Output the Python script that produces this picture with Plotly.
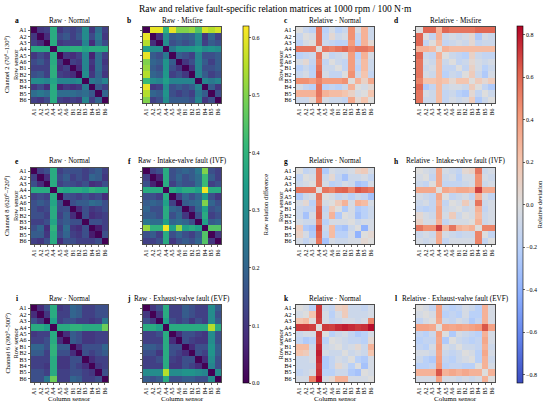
import plotly.graph_objects as go

W, H = 550, 407
SENSORS = ["A1", "A2", "A3", "A4", "A5", "A6", "B1", "B2", "B3", "B4", "B5", "B6"]

# ---------------- Row 1: Channel 2 ----------------
RAW_NORMAL_CH2 = [
    [0.00, 0.10, 0.12, 0.38, 0.10, 0.14, 0.12, 0.15, 0.30, 0.10, 0.22, 0.12],
    [0.10, 0.00, 0.08, 0.38, 0.14, 0.17, 0.12, 0.17, 0.30, 0.14, 0.25, 0.10],
    [0.12, 0.08, 0.00, 0.38, 0.10, 0.12, 0.12, 0.12, 0.28, 0.08, 0.22, 0.14],
    [0.38, 0.38, 0.38, 0.00, 0.38, 0.38, 0.39, 0.39, 0.36, 0.38, 0.38, 0.38],
    [0.10, 0.14, 0.10, 0.38, 0.00, 0.10, 0.08, 0.12, 0.28, 0.06, 0.22, 0.12],
    [0.14, 0.17, 0.12, 0.38, 0.10, 0.00, 0.12, 0.10, 0.28, 0.10, 0.22, 0.10],
    [0.12, 0.12, 0.12, 0.39, 0.08, 0.12, 0.00, 0.08, 0.28, 0.08, 0.22, 0.12],
    [0.15, 0.17, 0.12, 0.39, 0.12, 0.10, 0.08, 0.00, 0.30, 0.10, 0.20, 0.10],
    [0.30, 0.30, 0.28, 0.36, 0.28, 0.28, 0.28, 0.30, 0.00, 0.25, 0.22, 0.28],
    [0.10, 0.14, 0.08, 0.38, 0.06, 0.10, 0.08, 0.10, 0.25, 0.00, 0.17, 0.12],
    [0.22, 0.25, 0.22, 0.38, 0.22, 0.22, 0.22, 0.20, 0.22, 0.17, 0.00, 0.20],
    [0.12, 0.10, 0.14, 0.38, 0.12, 0.10, 0.12, 0.10, 0.28, 0.12, 0.20, 0.00],
]
RAW_MISFIRE_CH2 = [
    [0.00, 0.60, 0.60, 0.40, 0.60, 0.50, 0.50, 0.52, 0.45, 0.58, 0.55, 0.58],
    [0.60, 0.00, 0.08, 0.30, 0.18, 0.20, 0.18, 0.20, 0.30, 0.10, 0.20, 0.12],
    [0.55, 0.08, 0.00, 0.30, 0.15, 0.18, 0.15, 0.18, 0.28, 0.12, 0.18, 0.15],
    [0.35, 0.30, 0.30, 0.00, 0.25, 0.32, 0.32, 0.33, 0.35, 0.30, 0.32, 0.30],
    [0.60, 0.18, 0.15, 0.25, 0.00, 0.18, 0.15, 0.12, 0.28, 0.15, 0.15, 0.18],
    [0.50, 0.20, 0.18, 0.32, 0.18, 0.00, 0.10, 0.15, 0.28, 0.18, 0.12, 0.18],
    [0.52, 0.18, 0.15, 0.32, 0.15, 0.10, 0.00, 0.10, 0.28, 0.15, 0.15, 0.18],
    [0.55, 0.20, 0.18, 0.33, 0.12, 0.15, 0.10, 0.00, 0.28, 0.18, 0.12, 0.15],
    [0.42, 0.30, 0.28, 0.35, 0.28, 0.28, 0.28, 0.28, 0.00, 0.28, 0.25, 0.28],
    [0.60, 0.10, 0.12, 0.30, 0.15, 0.18, 0.15, 0.18, 0.28, 0.00, 0.18, 0.10],
    [0.55, 0.20, 0.18, 0.32, 0.15, 0.12, 0.15, 0.12, 0.25, 0.18, 0.00, 0.15],
    [0.50, 0.12, 0.15, 0.30, 0.18, 0.18, 0.18, 0.15, 0.28, 0.10, 0.15, 0.00],
]
REL_NORMAL_CH2 = [
    [0.00, -0.12, -0.18, 0.55, -0.20, -0.05, -0.20, -0.12, 0.45, -0.05, 0.30, -0.10],
    [-0.12, 0.00, -0.05, 0.55, -0.15, 0.05, -0.10, -0.05, 0.45, -0.15, 0.30, -0.10],
    [-0.18, -0.05, 0.00, 0.55, -0.10, -0.15, -0.20, -0.18, 0.40, -0.20, 0.30, 0.05],
    [0.55, 0.55, 0.55, 0.00, 0.55, 0.50, 0.55, 0.60, 0.50, 0.55, 0.55, 0.50],
    [-0.20, -0.15, -0.10, 0.55, 0.00, -0.15, -0.10, -0.05, 0.40, -0.20, 0.30, -0.05],
    [-0.05, 0.05, -0.15, 0.50, -0.15, 0.00, -0.10, -0.15, 0.40, -0.15, 0.25, -0.10],
    [-0.20, -0.10, -0.20, 0.55, -0.10, -0.10, 0.00, -0.15, 0.40, -0.20, 0.25, -0.10],
    [-0.12, -0.05, -0.18, 0.60, -0.05, -0.15, -0.15, 0.00, 0.45, -0.10, 0.20, -0.15],
    [0.45, 0.45, 0.40, 0.50, 0.40, 0.40, 0.40, 0.45, 0.00, 0.30, 0.10, 0.35],
    [-0.05, -0.15, -0.20, 0.55, -0.20, -0.15, -0.20, -0.10, 0.30, 0.00, -0.05, 0.05],
    [0.30, 0.30, 0.30, 0.55, 0.30, 0.25, 0.25, 0.20, 0.10, -0.05, 0.00, 0.20],
    [-0.10, -0.10, 0.05, 0.50, -0.05, -0.10, -0.10, -0.15, 0.35, 0.05, 0.20, 0.00],
]
REL_MISFIRE_CH2 = [
    [0.00, 0.60, 0.60, 0.30, 0.60, 0.55, 0.55, 0.55, 0.55, 0.60, 0.60, 0.60],
    [0.60, 0.00, -0.15, 0.30, -0.10, -0.05, -0.10, -0.05, 0.05, -0.25, -0.05, -0.10],
    [0.60, -0.15, 0.00, 0.25, -0.15, -0.10, -0.05, -0.10, 0.05, -0.15, -0.10, -0.10],
    [0.30, 0.30, 0.25, 0.00, 0.30, 0.25, 0.25, 0.25, 0.25, 0.25, 0.25, 0.25],
    [0.60, -0.10, -0.15, 0.30, 0.00, -0.10, -0.15, -0.20, 0.10, -0.10, -0.15, -0.15],
    [0.55, -0.05, -0.10, 0.25, -0.10, 0.00, -0.15, -0.10, 0.05, -0.05, -0.10, -0.05],
    [0.55, -0.10, -0.05, 0.25, -0.15, -0.15, 0.00, -0.15, 0.10, -0.05, -0.20, -0.10],
    [0.55, -0.05, -0.10, 0.25, -0.20, -0.10, -0.15, 0.00, 0.15, -0.10, -0.25, -0.05],
    [0.50, 0.20, 0.20, 0.25, 0.20, 0.05, 0.20, 0.20, 0.00, 0.15, 0.05, 0.15],
    [0.60, -0.25, -0.15, 0.25, -0.10, -0.05, -0.05, -0.10, 0.15, 0.00, -0.15, -0.25],
    [0.55, -0.05, -0.10, 0.25, -0.15, -0.10, -0.20, -0.25, 0.05, -0.15, 0.00, -0.10],
    [0.55, -0.10, -0.10, 0.25, -0.15, -0.05, -0.10, -0.05, 0.15, -0.25, -0.10, 0.00],
]

# ---------------- Row 2: Channel 8 ----------------
RAW_NORMAL_CH8 = [
    [0.00, 0.12, 0.15, 0.38, 0.12, 0.15, 0.15, 0.15, 0.12, 0.15, 0.18, 0.12],
    [0.12, 0.00, 0.08, 0.38, 0.14, 0.18, 0.12, 0.15, 0.12, 0.20, 0.18, 0.10],
    [0.15, 0.08, 0.00, 0.38, 0.12, 0.15, 0.14, 0.12, 0.15, 0.08, 0.10, 0.15],
    [0.38, 0.38, 0.38, 0.00, 0.38, 0.36, 0.38, 0.38, 0.36, 0.40, 0.38, 0.38],
    [0.12, 0.14, 0.12, 0.38, 0.00, 0.15, 0.14, 0.12, 0.15, 0.12, 0.14, 0.08],
    [0.15, 0.18, 0.15, 0.36, 0.15, 0.00, 0.15, 0.18, 0.18, 0.22, 0.20, 0.15],
    [0.15, 0.12, 0.14, 0.38, 0.14, 0.15, 0.00, 0.08, 0.15, 0.10, 0.12, 0.15],
    [0.15, 0.15, 0.12, 0.38, 0.12, 0.18, 0.08, 0.00, 0.15, 0.08, 0.10, 0.12],
    [0.12, 0.12, 0.15, 0.36, 0.15, 0.18, 0.15, 0.15, 0.00, 0.15, 0.15, 0.12],
    [0.15, 0.20, 0.08, 0.40, 0.12, 0.22, 0.10, 0.08, 0.15, 0.00, 0.05, 0.12],
    [0.18, 0.18, 0.10, 0.38, 0.14, 0.20, 0.12, 0.10, 0.15, 0.05, 0.00, 0.15],
    [0.12, 0.10, 0.15, 0.38, 0.08, 0.15, 0.15, 0.12, 0.12, 0.12, 0.15, 0.00],
]
RAW_IVF_CH8 = [
    [0.00, 0.12, 0.15, 0.38, 0.15, 0.18, 0.20, 0.18, 0.25, 0.50, 0.15, 0.12],
    [0.12, 0.00, 0.06, 0.38, 0.15, 0.20, 0.15, 0.18, 0.22, 0.42, 0.18, 0.12],
    [0.15, 0.06, 0.00, 0.38, 0.12, 0.18, 0.15, 0.15, 0.22, 0.42, 0.12, 0.15],
    [0.38, 0.38, 0.38, 0.00, 0.38, 0.35, 0.38, 0.38, 0.35, 0.61, 0.38, 0.38],
    [0.15, 0.15, 0.12, 0.38, 0.00, 0.12, 0.20, 0.15, 0.20, 0.33, 0.15, 0.10],
    [0.18, 0.20, 0.18, 0.35, 0.12, 0.00, 0.18, 0.20, 0.22, 0.50, 0.20, 0.15],
    [0.20, 0.15, 0.15, 0.38, 0.20, 0.18, 0.00, 0.10, 0.20, 0.35, 0.15, 0.18],
    [0.18, 0.18, 0.15, 0.38, 0.15, 0.20, 0.10, 0.00, 0.15, 0.38, 0.12, 0.15],
    [0.25, 0.22, 0.22, 0.35, 0.20, 0.22, 0.20, 0.15, 0.00, 0.35, 0.18, 0.20],
    [0.52, 0.40, 0.40, 0.61, 0.35, 0.52, 0.35, 0.38, 0.35, 0.00, 0.45, 0.45],
    [0.15, 0.18, 0.12, 0.38, 0.15, 0.20, 0.15, 0.12, 0.18, 0.45, 0.00, 0.10],
    [0.12, 0.12, 0.15, 0.38, 0.10, 0.15, 0.18, 0.15, 0.20, 0.45, 0.10, 0.00],
]
REL_NORMAL_CH8 = [
    [0.00, -0.15, -0.10, 0.55, -0.25, -0.05, -0.10, -0.10, -0.05, 0.10, 0.15, -0.05],
    [-0.15, 0.00, -0.05, 0.55, -0.10, 0.05, -0.15, -0.30, -0.10, -0.10, -0.05, -0.15],
    [-0.10, -0.05, 0.00, 0.55, -0.05, -0.20, -0.15, -0.05, -0.10, -0.30, -0.25, -0.05],
    [0.55, 0.55, 0.55, 0.00, 0.55, 0.50, 0.60, 0.62, 0.50, 0.65, 0.60, 0.55],
    [-0.25, -0.10, -0.05, 0.55, 0.00, -0.05, -0.15, -0.10, -0.20, -0.10, -0.15, -0.30],
    [-0.05, 0.05, -0.20, 0.50, -0.05, 0.00, 0.15, 0.30, -0.05, 0.30, 0.25, -0.05],
    [-0.10, -0.15, -0.15, 0.60, -0.15, 0.15, 0.00, -0.25, -0.05, -0.25, -0.20, -0.10],
    [-0.10, -0.30, -0.05, 0.62, -0.10, 0.30, -0.25, 0.00, -0.05, -0.30, -0.20, -0.10],
    [-0.05, -0.10, -0.10, 0.50, -0.20, -0.05, -0.05, -0.05, 0.00, -0.10, -0.05, -0.05],
    [0.15, -0.25, -0.30, 0.65, -0.10, 0.25, -0.25, -0.30, -0.10, 0.00, -0.40, -0.05],
    [0.10, -0.05, -0.25, 0.60, -0.15, 0.25, -0.20, -0.20, -0.05, -0.40, 0.00, 0.05],
    [-0.05, -0.15, -0.05, 0.55, -0.30, -0.05, -0.10, -0.10, -0.05, -0.05, 0.05, 0.00],
]
REL_IVF_CH8 = [
    [0.00, -0.05, -0.10, 0.35, -0.05, -0.10, -0.15, 0.05, 0.10, 0.55, -0.10, -0.05],
    [-0.05, 0.00, -0.15, 0.35, -0.10, -0.05, -0.20, -0.05, -0.05, 0.45, -0.05, -0.10],
    [-0.10, -0.15, 0.00, 0.35, -0.15, -0.15, -0.15, -0.10, -0.05, 0.45, -0.10, -0.05],
    [0.35, 0.35, 0.35, 0.00, 0.35, 0.30, 0.35, 0.35, 0.30, 0.70, 0.35, 0.35],
    [-0.05, -0.10, -0.15, 0.35, 0.00, -0.15, -0.10, -0.05, -0.15, 0.30, -0.05, -0.15],
    [-0.10, -0.05, -0.15, 0.30, -0.15, 0.00, -0.05, 0.15, -0.05, 0.55, -0.10, -0.05],
    [-0.15, -0.20, -0.15, 0.35, -0.10, -0.05, 0.00, -0.10, -0.05, 0.30, -0.15, -0.05],
    [0.05, -0.05, -0.10, 0.35, -0.05, 0.15, -0.10, 0.00, -0.05, 0.25, -0.10, -0.05],
    [0.10, -0.05, -0.05, 0.30, -0.15, -0.05, -0.05, -0.05, 0.00, 0.30, -0.10, -0.05],
    [0.55, 0.45, 0.45, 0.70, 0.30, 0.55, 0.30, 0.25, 0.30, 0.00, 0.50, 0.50],
    [-0.10, -0.05, -0.10, 0.35, -0.05, -0.10, -0.15, -0.10, -0.10, 0.50, 0.00, -0.15],
    [-0.05, -0.10, -0.05, 0.35, -0.15, -0.05, -0.05, -0.05, -0.05, 0.50, -0.15, 0.00],
]

# ---------------- Row 3: Channel 6 ----------------
RAW_NORMAL_CH6 = [
    [0.00, 0.08, 0.15, 0.38, 0.10, 0.12, 0.20, 0.18, 0.12, 0.12, 0.15, 0.15],
    [0.08, 0.00, 0.10, 0.38, 0.12, 0.12, 0.20, 0.18, 0.12, 0.12, 0.15, 0.15],
    [0.15, 0.10, 0.00, 0.35, 0.12, 0.15, 0.15, 0.12, 0.12, 0.10, 0.12, 0.25],
    [0.38, 0.38, 0.35, 0.00, 0.38, 0.38, 0.40, 0.40, 0.38, 0.38, 0.38, 0.48],
    [0.10, 0.12, 0.12, 0.38, 0.00, 0.08, 0.18, 0.15, 0.10, 0.10, 0.12, 0.12],
    [0.12, 0.12, 0.15, 0.38, 0.08, 0.00, 0.18, 0.15, 0.10, 0.10, 0.12, 0.12],
    [0.20, 0.20, 0.15, 0.40, 0.18, 0.18, 0.00, 0.08, 0.15, 0.15, 0.15, 0.20],
    [0.18, 0.18, 0.12, 0.40, 0.15, 0.15, 0.08, 0.00, 0.15, 0.12, 0.15, 0.18],
    [0.12, 0.12, 0.12, 0.38, 0.10, 0.10, 0.15, 0.15, 0.00, 0.08, 0.12, 0.12],
    [0.12, 0.12, 0.10, 0.38, 0.10, 0.10, 0.15, 0.12, 0.08, 0.00, 0.10, 0.12],
    [0.15, 0.15, 0.12, 0.38, 0.12, 0.12, 0.15, 0.15, 0.12, 0.10, 0.00, 0.15],
    [0.15, 0.15, 0.25, 0.48, 0.12, 0.12, 0.20, 0.18, 0.12, 0.12, 0.15, 0.00],
]
RAW_EVF_CH6 = [
    [0.00, 0.10, 0.15, 0.38, 0.12, 0.12, 0.18, 0.15, 0.12, 0.12, 0.30, 0.18],
    [0.10, 0.00, 0.10, 0.38, 0.12, 0.12, 0.18, 0.15, 0.12, 0.12, 0.30, 0.15],
    [0.15, 0.10, 0.00, 0.35, 0.15, 0.12, 0.15, 0.10, 0.15, 0.12, 0.30, 0.18],
    [0.38, 0.38, 0.35, 0.00, 0.38, 0.38, 0.38, 0.38, 0.38, 0.38, 0.55, 0.38],
    [0.12, 0.12, 0.15, 0.38, 0.00, 0.08, 0.15, 0.15, 0.12, 0.10, 0.30, 0.15],
    [0.12, 0.12, 0.12, 0.38, 0.08, 0.00, 0.15, 0.12, 0.10, 0.10, 0.30, 0.15],
    [0.18, 0.18, 0.15, 0.38, 0.15, 0.15, 0.00, 0.08, 0.15, 0.15, 0.32, 0.18],
    [0.15, 0.15, 0.10, 0.38, 0.15, 0.12, 0.08, 0.00, 0.15, 0.12, 0.32, 0.18],
    [0.12, 0.12, 0.15, 0.38, 0.12, 0.10, 0.15, 0.15, 0.00, 0.08, 0.30, 0.15],
    [0.12, 0.12, 0.12, 0.38, 0.10, 0.10, 0.15, 0.12, 0.08, 0.00, 0.28, 0.15],
    [0.30, 0.30, 0.30, 0.55, 0.30, 0.30, 0.32, 0.32, 0.30, 0.28, 0.00, 0.30],
    [0.18, 0.15, 0.18, 0.38, 0.15, 0.15, 0.18, 0.18, 0.15, 0.15, 0.30, 0.00],
]
REL_NORMAL_CH6 = [
    [0.00, -0.05, -0.20, 0.72, -0.10, -0.15, 0.10, 0.15, -0.10, -0.10, -0.15, -0.05],
    [-0.05, 0.00, 0.20, 0.72, -0.05, -0.20, -0.05, 0.15, -0.10, -0.10, -0.10, -0.05],
    [0.20, 0.25, 0.00, 0.70, -0.05, -0.15, -0.10, -0.05, -0.05, -0.10, -0.05, 0.50],
    [0.72, 0.72, 0.70, 0.00, 0.72, 0.70, 0.75, 0.78, 0.75, 0.72, 0.74, 0.82],
    [-0.10, -0.05, -0.05, 0.72, 0.00, -0.20, -0.10, -0.05, -0.15, -0.25, -0.20, -0.05],
    [-0.15, -0.25, -0.20, 0.70, -0.20, 0.00, -0.05, -0.10, -0.15, -0.15, -0.20, 0.05],
    [0.25, 0.25, -0.10, 0.75, -0.10, -0.05, 0.00, -0.10, -0.05, 0.05, -0.10, 0.30],
    [0.20, 0.15, -0.05, 0.78, -0.05, -0.10, -0.10, 0.00, -0.10, -0.05, -0.10, 0.20],
    [-0.10, -0.10, -0.05, 0.75, -0.25, -0.15, -0.05, -0.10, 0.00, -0.20, -0.25, -0.05],
    [-0.10, -0.10, -0.10, 0.72, -0.25, -0.15, 0.05, -0.05, -0.20, 0.00, -0.30, -0.05],
    [-0.15, -0.10, -0.05, 0.74, -0.20, -0.20, -0.10, -0.10, -0.25, -0.30, 0.00, -0.05],
    [-0.05, -0.05, 0.50, 0.82, -0.05, 0.05, 0.30, 0.30, -0.05, -0.05, -0.05, 0.00],
]
REL_EVF_CH6 = [
    [0.00, -0.05, -0.15, 0.38, -0.15, -0.20, -0.15, -0.05, -0.10, -0.20, 0.30, -0.05],
    [-0.05, 0.00, -0.05, 0.38, -0.20, -0.15, -0.20, -0.05, -0.20, -0.20, 0.30, -0.05],
    [-0.15, -0.05, 0.00, 0.35, -0.10, -0.15, -0.05, -0.10, -0.25, -0.15, 0.30, -0.05],
    [0.38, 0.38, 0.35, 0.00, 0.38, 0.35, 0.38, 0.35, 0.38, 0.42, 0.65, 0.38],
    [-0.15, -0.20, -0.10, 0.38, 0.00, -0.25, -0.05, -0.10, -0.15, -0.20, 0.30, -0.05],
    [-0.20, -0.15, -0.15, 0.35, -0.25, 0.00, -0.10, -0.15, -0.20, -0.15, 0.35, -0.05],
    [-0.15, -0.20, -0.05, 0.38, -0.05, -0.10, 0.00, -0.10, -0.10, -0.15, 0.30, -0.10],
    [-0.05, -0.05, -0.10, 0.35, -0.10, -0.15, -0.10, 0.00, -0.05, -0.20, 0.35, -0.05],
    [-0.10, -0.20, -0.25, 0.38, -0.15, -0.20, -0.10, -0.05, 0.00, -0.20, 0.30, -0.10],
    [-0.20, -0.20, -0.15, 0.42, -0.20, -0.15, -0.15, -0.20, -0.20, 0.00, 0.30, -0.05],
    [0.30, 0.30, 0.30, 0.65, 0.30, 0.35, 0.30, 0.35, 0.30, 0.30, 0.00, 0.30],
    [-0.05, -0.05, -0.05, 0.38, -0.05, -0.05, -0.10, -0.05, -0.10, -0.05, 0.30, 0.00],
]

PANELS = [
    ("a", "Raw · Normal", RAW_NORMAL_CH2, "raw"),
    ("b", "Raw · Misfire", RAW_MISFIRE_CH2, "raw"),
    ("c", "Relative · Normal", REL_NORMAL_CH2, "rel"),
    ("d", "Relative · Misfire", REL_MISFIRE_CH2, "rel"),
    ("e", "Raw · Normal", RAW_NORMAL_CH8, "raw"),
    ("f", "Raw · Intake-valve fault (IVF)", RAW_IVF_CH8, "raw"),
    ("g", "Relative · Normal", REL_NORMAL_CH8, "rel"),
    ("h", "Relative · Intake-valve fault (IVF)", REL_IVF_CH8, "rel"),
    ("i", "Raw · Normal", RAW_NORMAL_CH6, "raw"),
    ("j", "Raw · Exhaust-valve fault (EVF)", RAW_EVF_CH6, "raw"),
    ("k", "Relative · Normal", REL_NORMAL_CH6, "rel"),
    ("l", "Relative · Exhaust-valve fault (EVF)", REL_EVF_CH6, "rel"),
]
ROW_LABELS = ["Channel 2 (70°–130°)", "Channel 8 (620°–720°)", "Channel 6 (390°–500°)"]
RAW_TICKS = [0.0, 0.1, 0.2, 0.3, 0.4, 0.5, 0.6]
REL_TICKS = [-0.8, -0.6, -0.4, -0.2, 0.0, 0.2, 0.4, 0.6, 0.8]

# layout geometry in pixels
COL_X = [(31, 108), (143, 221), (296, 374), (416, 495)]
ROW_Y = [(27, 103), (168, 244), (305, 382)]
LETTER_X = [17, 129, 286, 396]

FONT = "Liberation Serif, Times New Roman, serif"

def px(x):
    return x / W

def py(y):
    return 1 - y / H

COOLWARM = [
    [0.0, "rgb(59,76,192)"], [0.125, "rgb(98,130,234)"], [0.25, "rgb(141,176,254)"],
    [0.375, "rgb(184,208,249)"], [0.5, "rgb(221,221,221)"], [0.625, "rgb(245,196,173)"],
    [0.75, "rgb(244,154,123)"], [0.875, "rgb(222,96,77)"], [1.0, "rgb(180,4,38)"],
]

fig = go.Figure()
annotations = []
layout_axes = {}

for idx, (letter, title, z, kind) in enumerate(PANELS):
    r, c = divmod(idx, 4)
    n = idx + 1
    xs = "" if n == 1 else str(n)
    fig.add_trace(go.Heatmap(
        z=z, x=SENSORS, y=SENSORS,
        coloraxis="coloraxis" if kind == "raw" else "coloraxis2",
        xaxis="x" + xs, yaxis="y" + xs, hoverinfo="skip",
    ))
    x0, x1 = COL_X[c]
    y0, y1 = ROW_Y[r]
    common = dict(showline=True, mirror=True, linecolor="black", linewidth=0.7,
                  ticks="outside", ticklen=2.5, tickwidth=0.6, tickcolor="black",
                  showgrid=False, zeroline=False, type="category", fixedrange=True,
                  tickfont=dict(size=6, family=FONT, color="black"))
    layout_axes["xaxis" + xs] = dict(common, domain=[px(x0), px(x1)], anchor="y" + xs,
                                     tickangle=-90, tickvals=SENSORS)
    layout_axes["yaxis" + xs] = dict(common, domain=[py(y1), py(y0)], anchor="x" + xs,
                                     autorange="reversed", tickvals=SENSORS,
                                     showticklabels=(c in (0, 2)))
    # panel title
    annotations.append(dict(text=title, x=px((x0 + x1) / 2), y=py(y0 - 6.5),
                            xref="paper", yref="paper", showarrow=False,
                            xanchor="center", yanchor="middle",
                            font=dict(size=7.2, family=FONT, color="black")))
    annotations.append(dict(text="<b>" + letter + "</b>", x=px(LETTER_X[c]), y=py(y0 - 6.5),
                            xref="paper", yref="paper", showarrow=False,
                            xanchor="center", yanchor="middle",
                            font=dict(size=7.5, family=FONT, color="black")))
    ymid = py((y0 + y1) / 2)
    if c in (0, 2):
        annotations.append(dict(text="Row sensor", x=px(x0 - 16), y=ymid,
                                xref="paper", yref="paper", showarrow=False,
                                textangle=-90, xanchor="center", yanchor="middle",
                                font=dict(size=6.5, family=FONT, color="black")))
    if c == 0:
        annotations.append(dict(text=ROW_LABELS[r], x=px(x0 - 24), y=ymid,
                                xref="paper", yref="paper", showarrow=False,
                                textangle=-90, xanchor="center", yanchor="middle",
                                font=dict(size=6.5, family=FONT, color="black")))
    if r == 2:
        annotations.append(dict(text="Column sensor", x=px((x0 + x1) / 2), y=py(399),
                                xref="paper", yref="paper", showarrow=False,
                                xanchor="center", yanchor="middle",
                                font=dict(size=7, family=FONT, color="black")))

annotations.append(dict(text="Raw and relative fault-specific relation matrices at 1000 rpm / 100 N·m",
                        x=0.5, y=py(9), xref="paper", yref="paper", showarrow=False,
                        xanchor="center", yanchor="middle",
                        font=dict(size=9.5, family=FONT, color="black")))

cb_common = dict(xanchor="left", xpad=0, ypad=0, yanchor="top", y=py(26),
                 len=(383 - 26) / H, lenmode="fraction", thickness=6,
                 outlinewidth=0.6, outlinecolor="black", ticks="outside",
                 ticklen=2, tickwidth=0.6, tickcolor="black",
                 tickfont=dict(size=6, family=FONT, color="black"))

fig.update_layout(
    width=W, height=H,
    margin=dict(l=0, r=0, t=0, b=0),
    paper_bgcolor="white", plot_bgcolor="white",
    font=dict(family=FONT, color="black"),
    coloraxis=dict(colorscale="Viridis", cmin=0, cmax=0.62,
                   colorbar=dict(cb_common, x=px(243), tickvals=RAW_TICKS,
                                 ticktext=["%.1f" % v for v in RAW_TICKS],
                                 title=dict(text="Raw relation difference", side="right",
                                            font=dict(size=6.5, family=FONT, color="black")))),
    coloraxis2=dict(colorscale=COOLWARM, cmin=-0.84, cmax=0.84,
                    colorbar=dict(cb_common, x=px(517), tickvals=REL_TICKS,
                                  ticktext=[("−%.1f" % -v) if v < 0 else "%.1f" % v for v in REL_TICKS],
                                  title=dict(text="Relative deviation", side="right",
                                             font=dict(size=6.5, family=FONT, color="black")))),
    annotations=annotations,
    showlegend=False,
    **layout_axes,
)

fig.write_html("out.html",
               config={"displayModeBar": False, "staticPlot": True},
               post_script="document.body.style.margin='0';document.body.style.padding='0';")
